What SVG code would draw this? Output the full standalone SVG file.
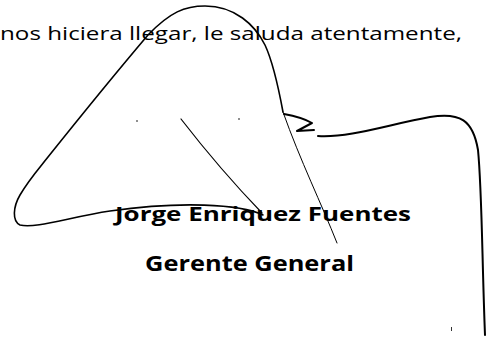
<svg xmlns="http://www.w3.org/2000/svg" width="487" height="350" viewBox="0 0 487 350">
<style>
.t{font-family:"Open Sans","Liberation Sans",sans-serif;fill:#000}
.b{font-weight:bold}
.s{fill:none;stroke:#000;stroke-linecap:round;stroke-linejoin:round}
</style>
<rect width="487" height="350" fill="#fff"/>
<text class="t" x="0" y="40" font-size="18" textLength="462" lengthAdjust="spacingAndGlyphs">nos hiciera llegar, le saluda atentamente,</text>
<g id="signature">
<path class="s" stroke-width="1.6" d="M263,215 C240,204 180,201 110,211 C70,217 35,229 20,225 C12,221 13,207 20,195 C28,181 36,172 48,157 C80,117 120,68 148,35 C170,12 185,6 205,6 C235,6 255,25 265,45 C272,60 278,85 283,112"/>
<path class="s" stroke-width="1" d="M283,112 C300,160 322,205 337,243"/>
<path class="s" stroke-width="1.2" d="M181,119 C205,150 235,185 262,213"/>
<path class="s" stroke-width="2" d="M284,114 C295,116 305,119 312,123 L297,131 L314,130"/>
<path class="s" stroke-width="2" d="M318,136 C350,138 390,124 430,117 C460,112 473,120 478,150 C482,190 482,260 485,335"/>
<circle cx="137" cy="121" r="0.8"/>
<circle cx="239" cy="119" r="0.8"/>
<rect x="451" y="327" width="0.8" height="4"/>
</g>
<text class="t b" x="115" y="221" font-size="20" textLength="296" lengthAdjust="spacingAndGlyphs">Jorge Enriquez Fuentes</text>
<text class="t b" x="145" y="271" font-size="21" textLength="209" lengthAdjust="spacingAndGlyphs">Gerente General</text>
</svg>
